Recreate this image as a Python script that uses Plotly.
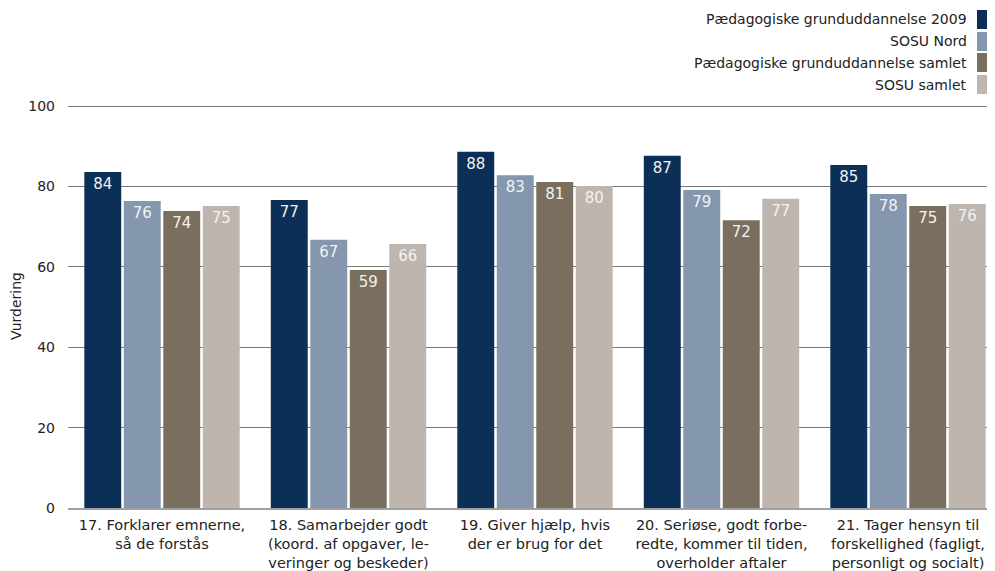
import plotly.graph_objects as go

categories = [
    "17. Forklarer emnerne,<br>så de forstås",
    "18. Samarbejder godt<br>(koord. af opgaver, le-<br>veringer og beskeder)",
    "19. Giver hjælp, hvis<br>der er brug for det",
    "20. Seriøse, godt forbe-<br>redte, kommer til tiden,<br>overholder aftaler",
    "21. Tager hensyn til<br>forskellighed (fagligt,<br>personligt og socialt)",
]
series_names = [
    "Pædagogiske grunduddannelse 2009",
    "SOSU Nord",
    "Pædagogiske grunduddannelse samlet",
    "SOSU samlet",
]
values_pgu2009 = [83.6, 76.6, 88.6, 87.6, 85.3]
values_sosu_nord = [76.4, 66.7, 82.8, 79.1, 78.1]
values_pgu_samlet = [73.9, 59.2, 81.1, 71.6, 75.1]
values_sosu_samlet = [75.1, 65.7, 80.1, 76.9, 75.6]
labels_pgu2009 = [84, 77, 88, 87, 85]
labels_sosu_nord = [76, 67, 83, 79, 78]
labels_pgu_samlet = [74, 59, 81, 72, 75]
labels_sosu_samlet = [75, 66, 80, 77, 76]
y_ticks = [0, 20, 40, 60, 80, 100]

colors = ["#0c2f57", "#8497ae", "#7a6f5f", "#beb6ae"]
FONT = "DejaVu Sans"

all_values = [values_pgu2009, values_sosu_nord, values_pgu_samlet, values_sosu_samlet]
all_labels = [labels_pgu2009, labels_sosu_nord, labels_pgu_samlet, labels_sosu_samlet]

fig = go.Figure()
xs = list(range(len(categories)))
for name, vals, labs, col in zip(series_names, all_values, all_labels, colors):
    fig.add_trace(go.Bar(
        x=xs, y=vals, name=name, marker=dict(color=col, line=dict(width=0)),
        text=[str(v) for v in labs], textposition="inside", insidetextanchor="end",
        textfont=dict(family=FONT, size=15, color="#f2f2f2"),
        textangle=0, cliponaxis=False, showlegend=False,
    ))

# page body has an 8px margin; the figure is sized/offset to compensate
OFF = 8
W, H = 995 - OFF, 571 - OFF
L, R, T, B = 68 - OFF, 0, 104 - OFF, 63
pw = W - L - R
ph = H - T - B
center0, step = 162 - OFF, 186.5
xr = [(L - center0) / step, (W - R - center0) / step]

fig.update_layout(
    width=W, height=H,
    margin=dict(l=L, r=R, t=T, b=B, autoexpand=False),
    paper_bgcolor="white", plot_bgcolor="white",
    barmode="group", bargap=0.153, bargroupgap=0.065,
    font=dict(family=FONT, size=14, color="#222222"),
    uniformtext=dict(minsize=8, mode="show"),
)
fig.update_xaxes(
    range=xr, tickmode="array", tickvals=xs, ticktext=categories,
    showgrid=False, zeroline=False, showline=True, linecolor="#a0a0a0", linewidth=2,
    ticks="", automargin=False, ticklabelstandoff=3,
    tickfont=dict(family=FONT, size=14.5, color="#222222"),
)
fig.update_yaxes(
    range=[0, 100.5], tickmode="array", tickvals=y_ticks,
    showgrid=True, gridcolor="#7a7a7a", gridwidth=1, zeroline=False,
    showline=False, ticks="", ticklabelstandoff=12,
    automargin=False, tickfont=dict(family=FONT, size=14, color="#222222"),
    title=dict(text="Vurdering", font=dict(family=FONT, size=14, color="#222222"), standoff=10),
)

def px_to_paper_x(px):
    return (px - OFF - L) / pw

def px_to_paper_y(py):
    return (H - B - (py - OFF)) / ph

row_tops = [10, 32, 53, 75]
for name, col, top in zip(series_names, colors, row_tops):
    fig.add_shape(type="rect", xref="paper", yref="paper",
                  x0=px_to_paper_x(977), x1=px_to_paper_x(994),
                  y0=px_to_paper_y(top + 19), y1=px_to_paper_y(top),
                  fillcolor=col, line=dict(width=0))
    fig.add_annotation(text=name, xref="paper", yref="paper",
                       x=px_to_paper_x(969), y=px_to_paper_y(top + 9.5),
                       xanchor="right", yanchor="middle", showarrow=False,
                       font=dict(family=FONT, size=14, color="#222222"))

fig.write_html("out.html")
